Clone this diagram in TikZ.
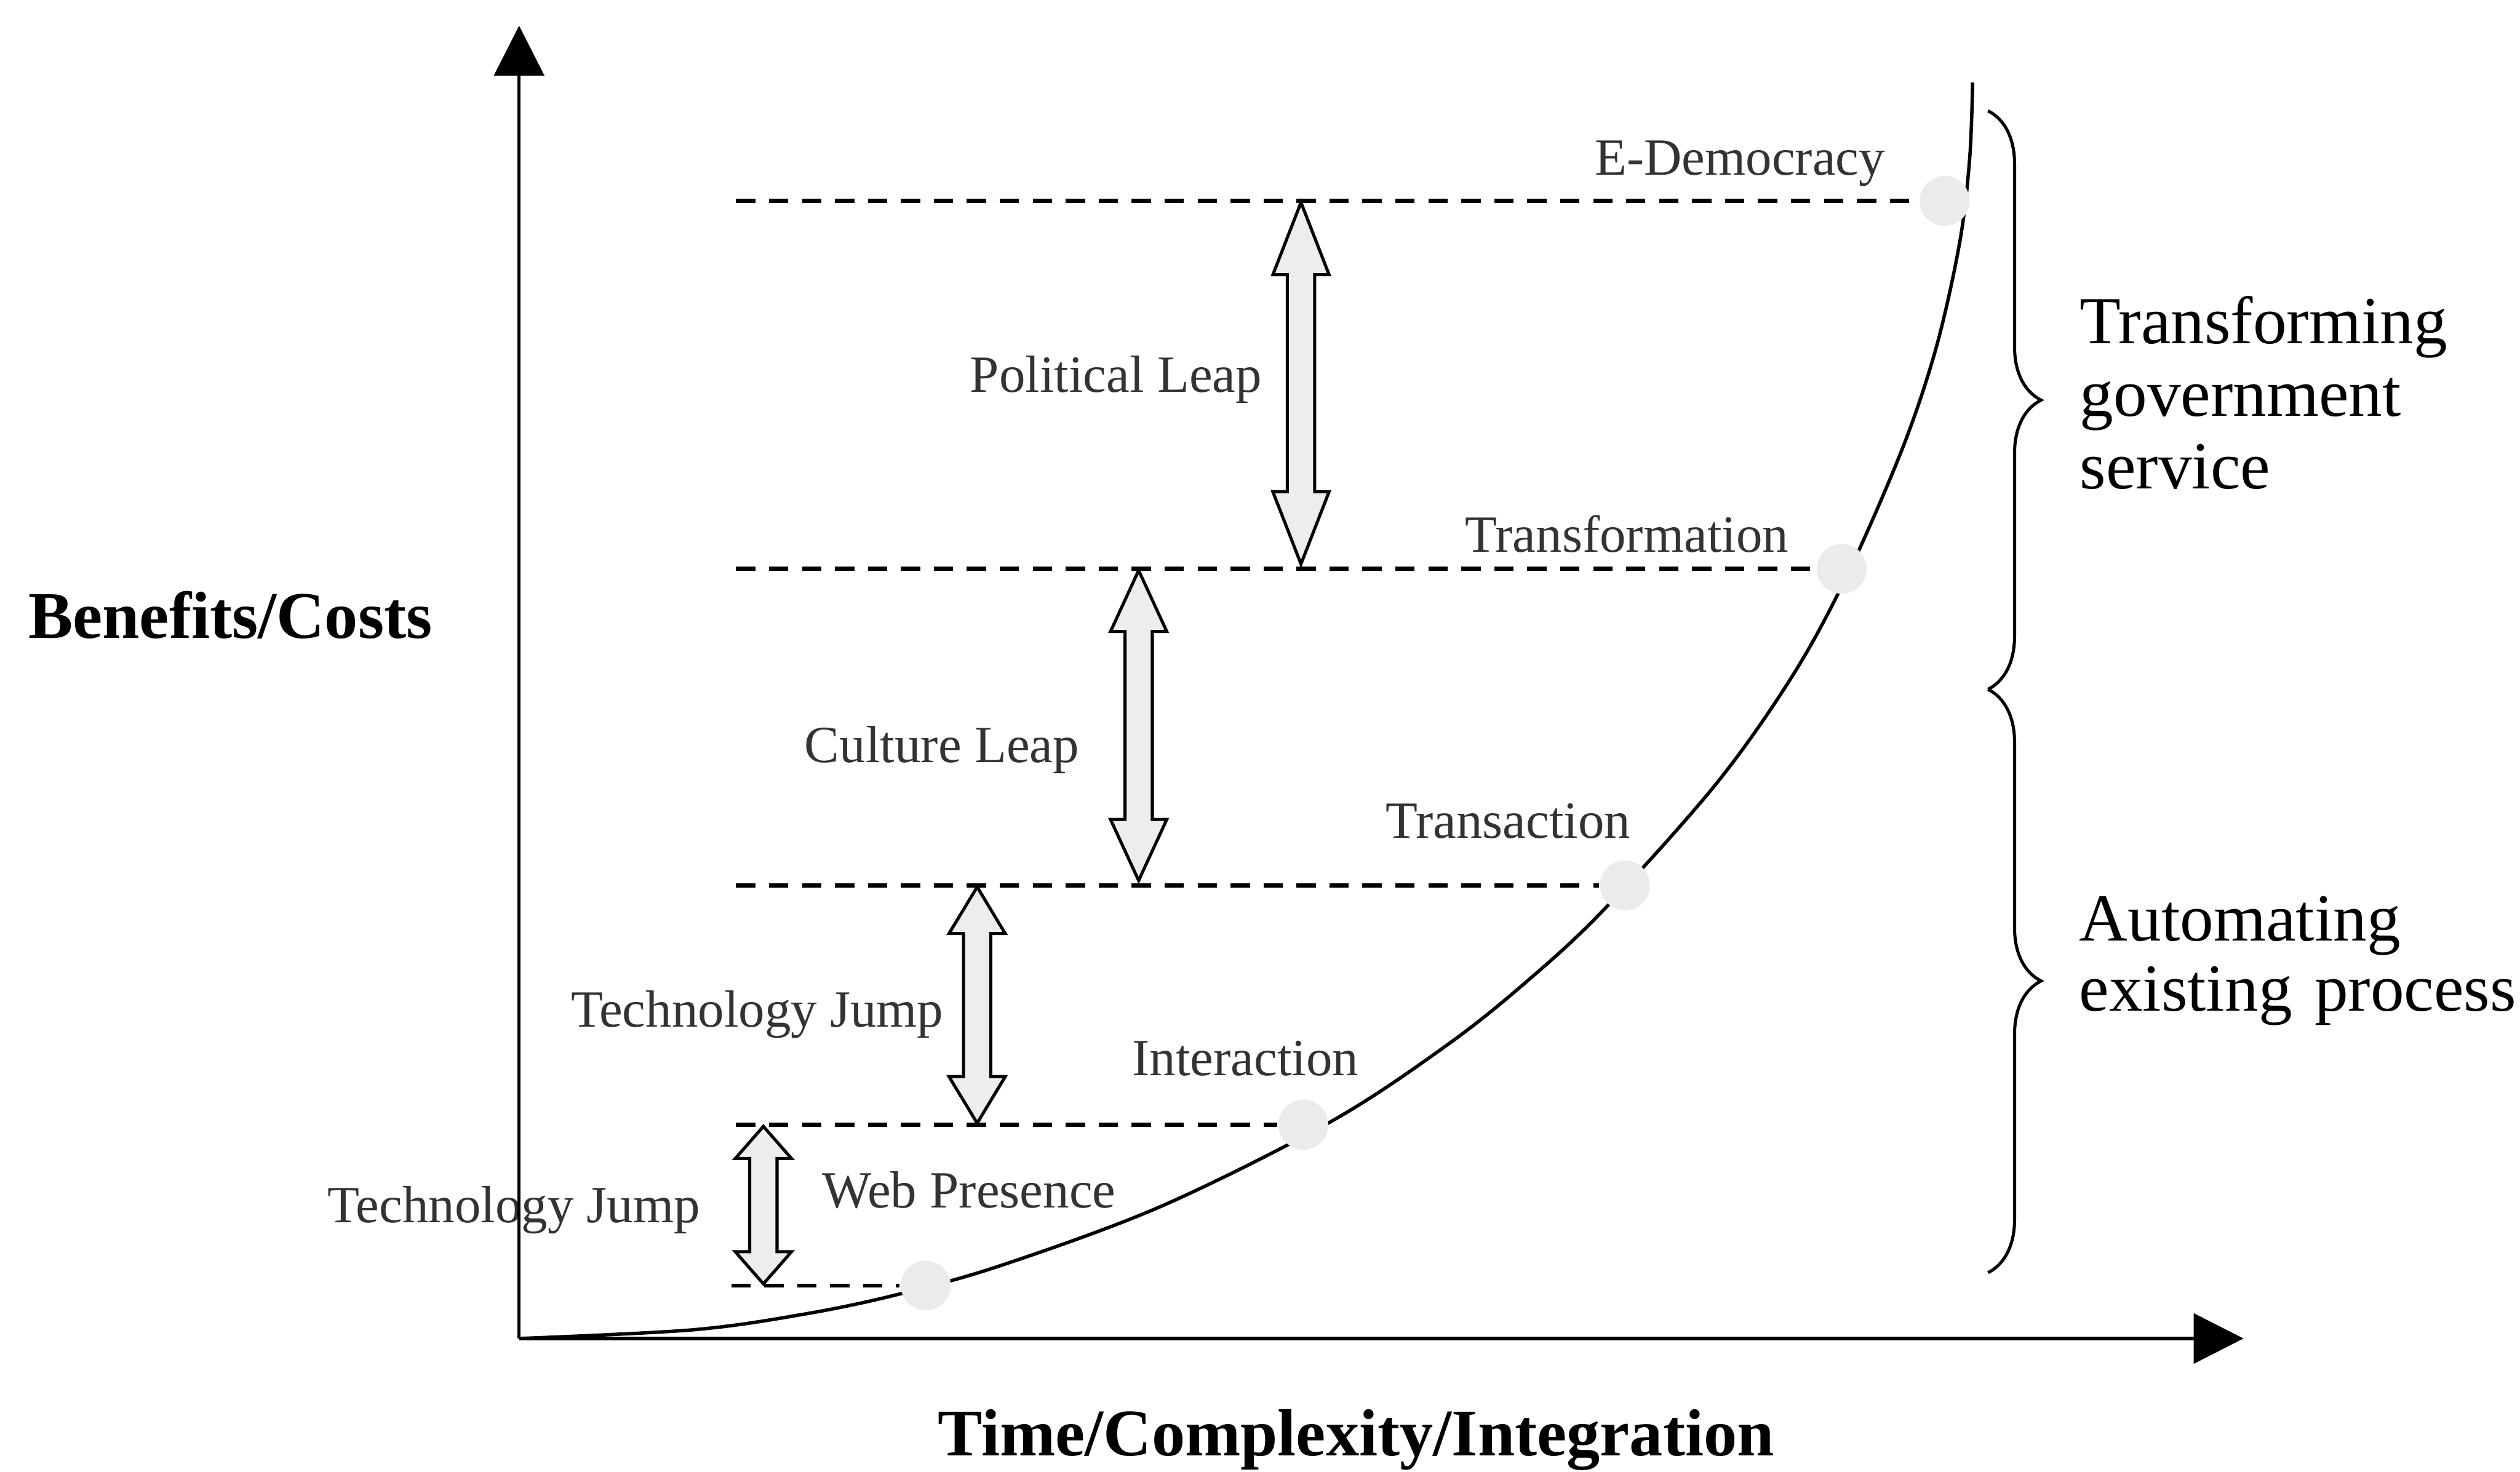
\documentclass[tikz,border=0pt]{standalone}
\usepackage{fontspec}
\setmainfont{Liberation Serif}
\usetikzlibrary{arrows.meta,calc,decorations.pathreplacing}

% hollow two-headed arrow between a top tip (#1) and a bottom tip (#2); #3 = head length
\newcommand{\leaparrow}[3]{%
  \path[leap] (#1) -- ++(-17.5,#3) -- ++(9,0) -- ($(#2)+(-8.5,-#3)$) -- ++(-9,0)
    -- (#2) -- ++(17.5,-#3) -- ++(-9,0) -- ($(#1)+(8.5,#3)$) -- ++(9,0) -- cycle;}

\tikzset{
  axis/.style={line width=0.55pt, -{Triangle[length=0.31cm,width=0.31cm]}},
  level/.style={line width=0.7pt, dash pattern=on 0.12cm off 0.085cm},
  growth/.style={line width=0.6pt},
  stage/.style={circle, inner sep=0pt, minimum size=0.31cm, fill=black!8},
  leap/.style={draw, line width=0.55pt, fill=black!7, line join=miter},
  label/.style={inner sep=0pt, anchor=base west, text=black!80,
    font=\fontsize{9.25}{11}\selectfont},
  axislabel/.style={inner sep=0pt, anchor=base west,
    font=\bfseries\fontsize{11.8}{13}\selectfont},
  phase/.style={inner sep=0pt, anchor=base west, text width=3cm, align=left},
  phasebrace/.style={decorate, decoration={brace, amplitude=0.33cm}, line width=0.55pt},
}

\begin{document}
\begin{tikzpicture}[x=0.01cm, y=-0.01cm]
  \path[fill=white, use as bounding box] (0,0) rectangle (1568,916);

  % growth curve
  \draw[growth] plot[smooth, tension=0.55] coordinates {
    (323,833) (431,827.6) (500,817.9) (557,806.0) (623,787.5) (723,750.5)
    (829,697.5) (900.9,650.0) (950,610.8) (997.6,566.5) (1068,487.6)
    (1116,419.5) (1150,356.6) (1184,278.4) (1205,215.4) (1219.5,150.1)
    (1225.6,98.2) (1227.4,51.4)};

  % stages on the curve
  \node[stage] (web)    at (576,800)  {};
  \node[stage] (inter)  at (811,700)  {};
  \node[stage] (trans)  at (1011,551) {};
  \node[stage] (transf) at (1146,354) {};
  \node[stage] (edem)   at (1210,125) {};

  % level lines
  \coordinate (web-l)    at (455,800);
  \coordinate (inter-l)  at (458,700);
  \coordinate (trans-l)  at (458,551);
  \coordinate (transf-l) at (458,354);
  \coordinate (edem-l)   at (458,125);
  \draw[level] (web-l)    -- (web.west);
  \draw[level] (inter-l)  -- (inter.west);
  \draw[level] (trans-l)  -- (trans.west);
  \draw[level] (transf-l) -- (transf.west);
  \draw[level] (edem-l)   -- (edem.west);

  % leaps between levels
  \coordinate (pl-t) at (809.5,126); \coordinate (pl-b) at (809.5,351);
  \coordinate (cl-t) at (708.5,355); \coordinate (cl-b) at (708.5,548);
  \coordinate (tj-t) at (608,552);   \coordinate (tj-b) at (608,699);
  \coordinate (wj-t) at (475,701);   \coordinate (wj-b) at (475,799);
  \leaparrow{pl-t}{pl-b}{45}
  \leaparrow{cl-t}{cl-b}{38}
  \leaparrow{tj-t}{tj-b}{29}
  \leaparrow{wj-t}{wj-b}{20}

  % stage and leap labels
  \node[label] (l-edem)   at (991.6,108.9) {E-Democracy};
  \node[label] (l-pol)    at (602.9,244)   {Political Leap};
  \node[label] (l-transf) at (911,343.6)   {Transformation};
  \node[label] (l-cult)   at (500,474.5)   {Culture Leap};
  \node[label] (l-trans)  at (861.5,521.6) {Transaction};
  \node[label] (l-tj)     at (354.6,639.3) {Technology Jump};
  \node[label] (l-inter)  at (703.8,669.2) {Interaction};
  \node[label] (l-wj)     at (203.2,761)   {Technology Jump};
  \node[label] (l-web)    at (511,751.5)   {Web Presence};

  % axes
  \coordinate (O) at (323,833);
  \coordinate (ytip) at (323,16);
  \coordinate (xtip) at (1396,833);
  \draw[axis] (O) -- (ytip);
  \draw[axis] (O) -- (xtip);
  \node[axislabel] (ylab) at (17,397)    {Benefits/Costs};
  \node[axislabel] (xlab) at (583,905.8) {Time/Complexity/Integration};

  % phases
  \draw[phasebrace] (1237,69) -- (1237,429);
  \draw[phasebrace] (1237,429) -- (1237,792);
  \node[phase, font=\fontsize{11.9}{12.8}\selectfont] (p-transform) at (1293.5,214)
    {Transforming\\government\\service};
  \node[phase, font=\fontsize{11.9}{12.4}\selectfont] (p-auto) at (1293,585.6)
    {Automating\\existing process};
\end{tikzpicture}
\end{document}
